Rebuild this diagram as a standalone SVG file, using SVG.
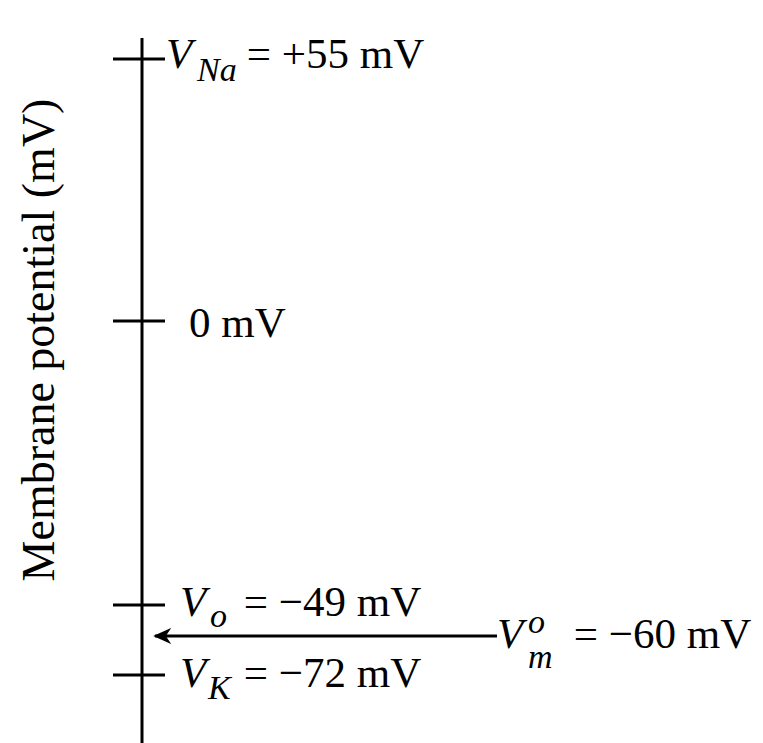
<svg xmlns="http://www.w3.org/2000/svg" width="763" height="743" viewBox="0 0 763 743">
<defs>
<style>
.ax{stroke:#000;stroke-width:3;fill:none}
.t{font-family:"Liberation Serif","Times New Roman",serif;font-size:43px;fill:#000}
.i{font-style:italic}
.s{font-size:34px;font-style:italic}
</style>
<marker id="ah" viewBox="0 0 10 10" refX="9" refY="5" markerWidth="18" markerHeight="18" markerUnits="userSpaceOnUse" orient="auto">
<path d="M0,0.5 L10,5 L0,9.5 L3,5 Z" fill="#000"/>
</marker>
</defs>
<rect width="763" height="743" fill="#fff"/>
<g id="axis">
<line class="ax" x1="142" y1="38" x2="142" y2="743"/>
<line class="ax" x1="113" y1="59" x2="165" y2="59"/>
<line class="ax" x1="113" y1="321" x2="165" y2="321"/>
<line class="ax" x1="113" y1="605" x2="165" y2="605"/>
<line class="ax" x1="113" y1="675" x2="165" y2="675"/>
</g>
<g id="connectors">
<line class="ax" x1="497" y1="636" x2="155" y2="636" marker-end="url(#ah)"/>
</g>
<g id="ylabel">
<text class="t" style="font-size:46px" transform="translate(54,340) rotate(-90)" text-anchor="middle">Membrane potential (mV)</text>
</g>
<g id="vna">
<text class="t" x="166" y="68"><tspan class="i">V</tspan><tspan class="s" x="197" dy="13">Na</tspan><tspan x="236" dy="-13"> = +55 mV</tspan></text>
</g>
<g id="zero">
<text class="t" x="189" y="337">0 mV</text>
</g>
<g id="vo">
<text class="t" x="180" y="616"><tspan class="i">V</tspan><tspan class="s" x="210" dy="11">o</tspan><tspan x="233" dy="-11"> = −49 mV</tspan></text>
</g>
<g id="vk">
<text class="t" x="180" y="687"><tspan class="i">V</tspan><tspan class="s" x="208" dy="12">K</tspan><tspan x="233" dy="-12"> = −72 mV</tspan></text>
</g>
<g id="vm">
<text class="t" x="497" y="648"><tspan class="i">V</tspan><tspan class="s" x="528" y="633">o</tspan><tspan class="s" x="528" y="668">m</tspan><tspan x="563" y="648"> = −60 mV</tspan></text>
</g>
</svg>
